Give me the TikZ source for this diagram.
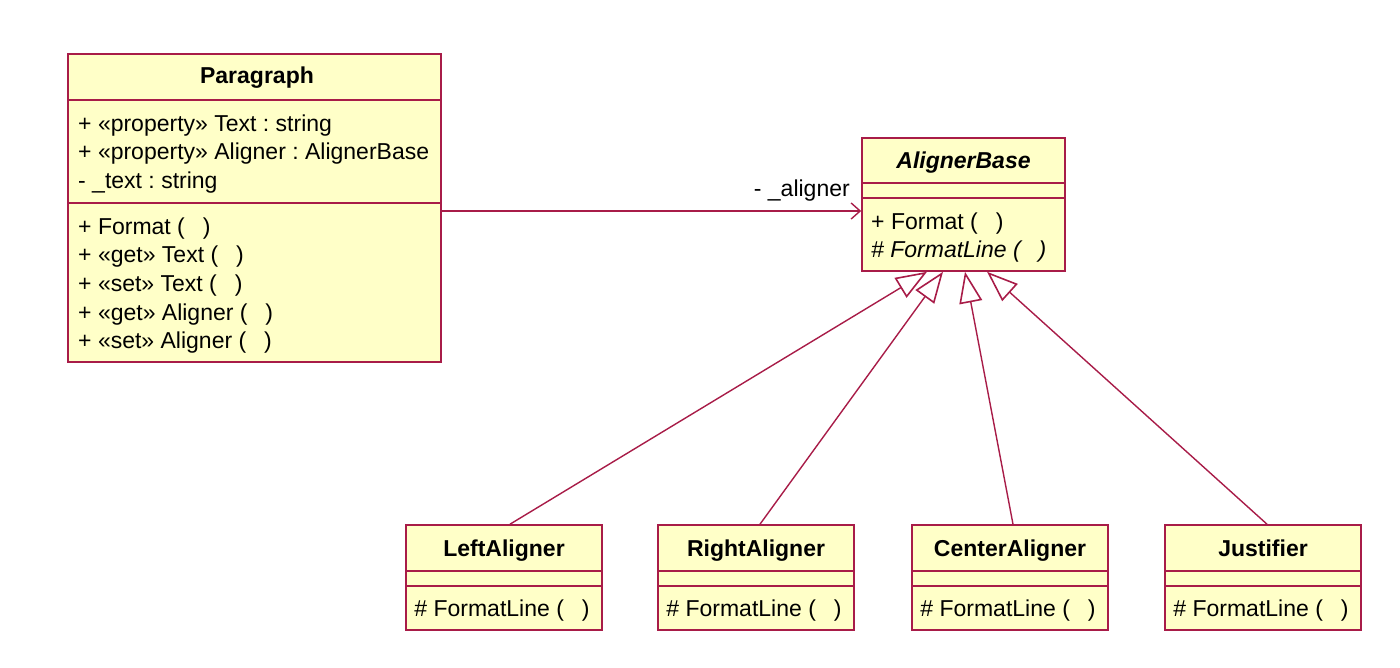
\documentclass[tikz,border=0pt]{standalone}
\usepackage{fontspec}
\setmainfont{Liberation Sans}
\usetikzlibrary{arrows.meta}
\frenchspacing
\definecolor{umlborder}{RGB}{168,28,72}
\definecolor{umlfill}{RGB}{255,255,200}
\tikzset{
  cls/.style={draw=umlborder, fill=umlfill, line width=1.6pt, rectangle, inner sep=0pt},
  sep/.style={draw=umlborder, line width=1.6pt},
  txt/.style={anchor=base west, inner sep=0pt, font=\fontsize{23}{27}\selectfont},
  ttl/.style={anchor=base, inner sep=0pt, font=\fontsize{23}{27}\selectfont\bfseries},
  assoc/.style={draw=umlborder, line width=1.4pt, -{Straight Barb[length=9pt,width=16pt,line width=1.4pt]}},
  gen/.style={draw=umlborder, line width=1.4pt, -{Triangle[open,length=31pt,width=23pt,line width=1.6pt]}}
}
\newcommand{\pp}{(\,\,~\,)}
\begin{document}
\begin{tikzpicture}[x=1pt,y=-1pt]
\useasboundingbox (0,0) rectangle (1400,668);
% Paragraph
\node[cls, minimum width=373pt, minimum height=308pt] (para) at (254.5,208) {};
\draw[sep] (para.west |- 0,100) -- (para.east |- 0,100);
\draw[sep] (para.west |- 0,203) -- (para.east |- 0,203);
\node[ttl] (paraT) at (257,84) {Paragraph};
\node[txt] (pa1) at (78,131.5) {+ «property» Text : string};
\node[txt] (pa2) at (78,160) {+ «property» Aligner : AlignerBase};
\node[txt] (pa3) at (78,188.5) {- \_text : string};
\node[txt] (pm1) at (78,234.5) {+ Format \pp};
\node[txt] (pm2) at (78,263) {+ «get» Text \pp};
\node[txt] (pm3) at (78,291.5) {+ «set» Text \pp};
\node[txt] (pm4) at (78,320) {+ «get» Aligner \pp};
\node[txt] (pm5) at (78,348.5) {+ «set» Aligner \pp};
% AlignerBase
\node[cls, minimum width=203pt, minimum height=133pt] (ab) at (963.5,204.5) {};
\draw[sep] (ab.west |- 0,183) -- (ab.east |- 0,183);
\draw[sep] (ab.west |- 0,198) -- (ab.east |- 0,198);
\node[ttl, font=\fontsize{23}{27}\selectfont\bfseries\itshape] (abT) at (963.5,168.5) {AlignerBase};
\node[txt] (am1) at (871,229.5) {+ Format \pp};
\node[txt, font=\fontsize{23}{27}\selectfont\itshape] (am2) at (871,257.5) {\# FormatLine \pp};
% association
\draw[assoc] (para.east |- 0,211) -- (ab.west |- 0,211);
\node[anchor=base east, inner sep=0pt, font=\fontsize{23}{27}\selectfont] (lbl) at (850,196.5) {- \_aligner};
% subclasses
\foreach \nm/\lab/\cx in {la/LeftAligner/504, ra/RightAligner/756, ca/CenterAligner/1010, ju/Justifier/1263}{
  \node[cls, minimum width=196pt, minimum height=105pt] (\nm) at (\cx,577.5) {};
  \draw[sep] (\nm.west |- 0,571) -- (\nm.east |- 0,571);
  \draw[sep] (\nm.west |- 0,586) -- (\nm.east |- 0,586);
  \node[ttl] (\nm T) at (\cx,556.5) {\lab};
  \node[txt] (\nm M) at ([xshift=9pt]\nm.west |- 0,616.5) {\# FormatLine \pp};
}
% generalizations
\coordinate (t1) at (927,0);
\coordinate (t2) at (943,0);
\coordinate (t3) at (965,0);
\coordinate (t4) at (987,0);
\draw[gen] ([xshift=6pt]la.north) -- (ab.south -| t1);
\draw[gen] ([xshift=4pt]ra.north) -- (ab.south -| t2);
\draw[gen] ([xshift=3pt]ca.north) -- (ab.south -| t3);
\draw[gen] ([xshift=4pt]ju.north) -- (ab.south -| t4);
\end{tikzpicture}
\end{document}
